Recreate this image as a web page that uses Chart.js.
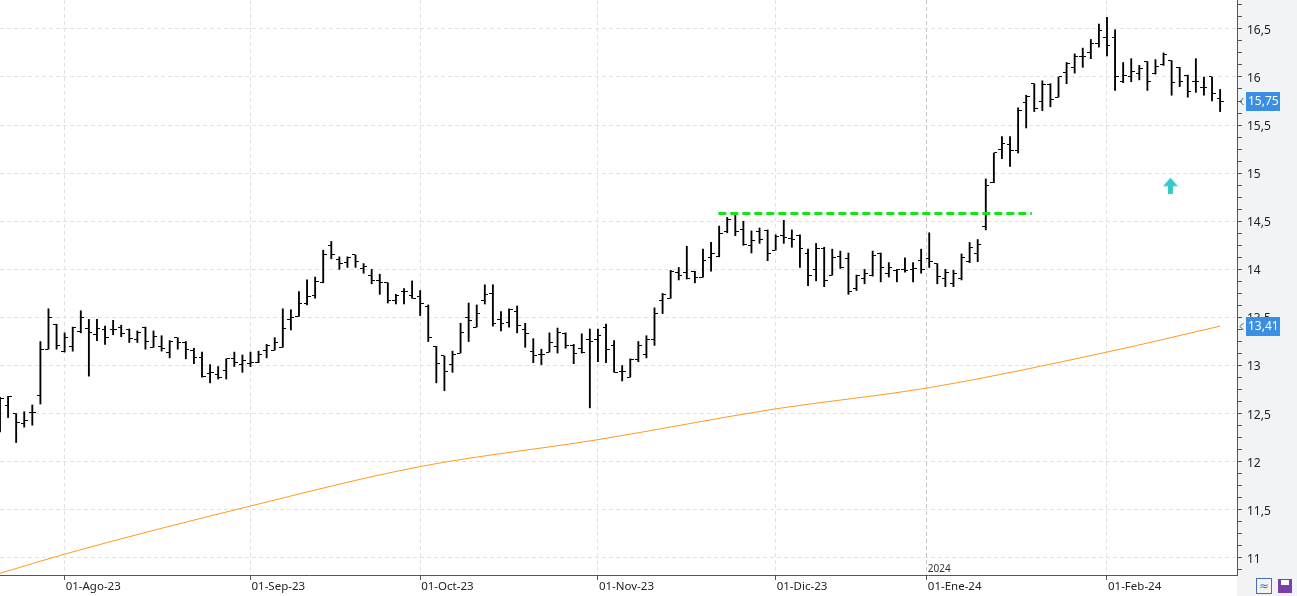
<!DOCTYPE html>
<html><head><meta charset="utf-8">
<script src="https://cdn.jsdelivr.net/npm/chart.js@4.4.1/dist/chart.umd.min.js"></script>
<style>html,body{margin:0;padding:0;background:#fff;overflow:hidden}#wrap{width:1297px;height:596px;position:relative}</style>
</head><body><div id="wrap"><canvas id="c" width="1297" height="596"></canvas></div>
<script>
// Daily OHLC bars, 20-Jul-2023 .. 21-Feb-2024 (index = trading-day number)
const opens = [12.54,12.58,12.50,12.40,12.51,12.69,13.17,13.43,13.15,13.20,
13.35,13.39,13.32,13.38,13.38,13.40,13.38,13.27,13.40,13.19,
13.20,13.14,13.29,13.24,13.16,13.08,12.92,12.91,12.95,13.07,
13.01,13.02,13.03,13.16,13.16,13.19,13.48,13.51,13.65,13.73,
13.86,14.25,14.10,14.07,14.15,14.01,13.94,13.88,13.86,13.68,
13.77,13.73,13.72,13.61,13.20,13.10,13.01,13.13,13.50,13.40,
13.68,13.75,13.48,13.45,13.56,13.38,13.15,13.12,13.14,13.20,
13.33,13.21,13.18,13.27,13.27,13.40,13.21,12.94,12.88,13.06,
13.11,13.27,13.68,13.70,13.97,13.97,13.98,13.92,14.12,14.13,
14.39,14.57,14.41,14.25,14.39,14.40,14.20,14.35,14.32,14.35,
14.16,14.00,14.22,13.94,14.13,14.11,13.80,13.91,13.94,14.17,
13.96,13.99,14.00,14.00,14.09,14.11,14.06,13.90,13.85,13.91,
14.08,14.17,14.45,14.90,15.25,15.30,15.24,15.73,15.93,15.75,
15.92,15.79,16.05,16.10,16.21,16.25,16.35,16.41,16.41,15.95,
16.00,16.04,16.16,16.04,16.13,16.17,16.10,16.02,15.95,15.89,
16.00,15.78];
const highs = [12.67,12.68,12.50,12.52,12.59,13.25,13.59,13.43,13.34,13.40,
13.57,13.48,13.48,13.41,13.47,13.42,13.38,13.36,13.40,13.36,
13.31,13.26,13.29,13.25,13.18,13.14,13.01,12.99,13.07,13.14,
13.11,13.14,13.15,13.22,13.29,13.59,13.58,13.77,13.89,13.92,
14.20,14.29,14.13,14.13,14.15,14.06,14.00,13.95,13.86,13.74,
13.80,13.88,13.78,13.63,13.20,13.10,13.15,13.44,13.65,13.63,
13.84,13.84,13.56,13.59,13.62,13.44,13.28,13.17,13.34,13.39,
13.34,13.22,13.33,13.38,13.38,13.43,13.26,13.00,13.07,13.25,
13.31,13.60,13.75,13.99,14.02,14.24,13.98,14.21,14.28,14.45,
14.54,14.57,14.50,14.40,14.43,14.41,14.36,14.51,14.41,14.36,
14.21,14.27,14.23,14.21,14.19,14.17,13.94,14.00,14.19,14.17,
14.07,14.00,14.12,14.07,14.21,14.38,14.06,14.00,13.99,14.16,
14.28,14.31,14.94,15.21,15.38,15.38,15.68,15.81,15.93,15.96,
15.93,16.00,16.15,16.24,16.30,16.39,16.55,16.62,16.49,16.15,
16.19,16.12,16.16,16.18,16.25,16.17,16.10,16.02,16.19,16.00,
16.00,15.87];
const lows = [12.31,12.46,12.20,12.36,12.38,12.60,13.17,13.17,13.14,13.15,
13.34,12.89,13.26,13.22,13.32,13.30,13.24,13.24,13.17,13.19,
13.15,13.08,13.17,13.07,13.02,12.88,12.82,12.86,12.86,12.99,
12.93,12.99,13.03,13.08,13.16,13.19,13.37,13.51,13.63,13.70,
13.86,14.11,14.00,14.02,14.02,13.96,13.85,13.74,13.65,13.64,
13.64,13.70,13.52,13.25,12.82,12.74,12.93,13.13,13.25,13.40,
13.64,13.41,13.36,13.40,13.34,13.19,13.03,13.01,13.14,13.13,
13.18,13.02,13.13,12.56,13.04,13.03,12.93,12.84,12.88,13.04,
13.08,13.21,13.54,13.70,13.89,13.90,13.86,13.92,13.98,14.13,
14.38,14.35,14.25,14.17,14.27,14.09,14.20,14.27,14.23,14.02,
13.83,13.88,13.82,13.94,14.01,13.74,13.78,13.85,13.93,13.87,
13.92,13.87,13.97,13.87,13.96,14.02,13.85,13.82,13.82,13.89,
14.07,14.08,14.41,14.90,15.15,15.07,15.21,15.47,15.64,15.65,
15.69,15.79,15.93,16.04,16.10,16.19,16.31,16.22,15.86,15.94,
15.95,15.97,15.86,16.03,16.12,15.81,15.90,15.79,15.84,15.81,
15.75,15.64];
const closes = [12.66,12.68,12.41,12.43,12.51,13.17,13.50,13.21,13.29,13.40,
13.50,13.34,13.39,13.29,13.37,13.33,13.28,13.34,13.25,13.30,
13.18,13.25,13.24,13.17,13.08,12.89,12.93,12.88,13.07,13.03,
13.05,13.03,13.12,13.21,13.24,13.39,13.50,13.65,13.72,13.87,
14.15,14.15,14.06,14.12,14.08,14.03,13.88,13.86,13.68,13.73,
13.77,13.70,13.65,13.29,13.02,12.94,13.11,13.34,13.47,13.54,
13.74,13.44,13.44,13.58,13.42,13.33,13.10,13.11,13.24,13.34,
13.21,13.13,13.14,13.25,13.31,13.17,12.93,12.94,13.06,13.21,
13.27,13.54,13.74,13.98,13.94,13.91,13.92,14.09,14.16,14.37,
14.52,14.39,14.26,14.30,14.31,14.16,14.34,14.33,14.31,14.22,
13.94,14.22,13.88,14.12,14.02,13.77,13.94,13.96,14.14,14.02,
14.02,14.00,13.99,14.01,14.00,14.08,13.93,13.97,13.96,14.12,
14.23,14.26,14.87,15.21,15.31,15.24,15.65,15.80,15.67,15.92,
15.77,16.00,16.14,16.21,16.21,16.35,16.48,16.33,16.00,16.02,
16.06,16.09,15.95,16.11,16.23,15.94,15.95,15.85,15.95,15.89,
15.83,15.75];

// Moving average readings (trading-day index, value)
const maIndex  = [0, 8, 31, 52, 74, 96, 115, 137, 151];
const maValues = [10.84, 11.04, 11.54, 11.95, 12.23, 12.55, 12.77, 13.14, 13.41];

// Resistance line (green dashed) and buy signal arrow
const resistanceIndex = [88.9, 127.7];
const resistanceValue = [14.58, 14.58];
const signalIndex = [144.85];
const signalValue = [14.87];

// X axis month ticks
const monthTickIndex  = [8, 31, 52, 74, 96, 114.7, 137];
const monthTickLabels = ['01-Ago-23','01-Sep-23','01-Oct-23','01-Nov-23','01-Dic-23','01-Ene-24','01-Feb-24'];
const yearMarkIndex = 114.7, yearMarkLabel = '2024';

// Axis ranges
const yMin = 10.823, yMax = 16.80;
const xMin = 0, xMax = 153.09;

function fmt(v){ return (Math.round(v*100)/100).toString().replace('.', ','); }

function tickCanvas(side){
  const c = document.createElement('canvas'); c.width = 7; c.height = 1;
  const g = c.getContext('2d'); g.fillStyle = '#000';
  if (side === 'left') g.fillRect(0,0,3,1); else g.fillRect(4,0,3,1);
  return c;
}
function arrowCanvas(){
  const c = document.createElement('canvas'); c.width = 15; c.height = 16;
  const g = c.getContext('2d'); g.fillStyle = '#36c9c9';
  g.beginPath(); g.moveTo(7.5,0); g.lineTo(15,8.5); g.lineTo(0,8.5); g.closePath(); g.fill();
  g.fillRect(5,8,5,8);
  return c;
}

const idx = closes.map((_, i) => i);
const noPad = s => { s.paddingLeft = 0; s.paddingRight = 0; s.paddingTop = 0; s.paddingBottom = 0; };

const decor = {
  id: 'decor',
  beforeDraw(chart){
    const {ctx, chartArea: a, width, height} = chart;
    ctx.save();
    ctx.fillStyle = '#ffffff'; ctx.fillRect(0,0,width,height);
    ctx.fillStyle = '#f2f3f5'; ctx.fillRect(a.right,0,width-a.right,height);
    ctx.restore();
  },
  afterDraw(chart){
    const {ctx, chartArea: a, scales} = chart;
    const y = scales.y, x = scales.x;
    ctx.save();
    ctx.font = '10px "Noto Sans"'; ctx.fillStyle = '#333'; ctx.textBaseline = 'bottom'; ctx.textAlign = 'left';
    ctx.fillText(yearMarkLabel, x.getPixelForValue(yearMarkIndex) + 1, a.bottom - 1);
    const tags = [closes[closes.length-1], maValues[maValues.length-1]];
    tags.forEach(v => {
      const py = Math.round(y.getPixelForValue(v));
      ctx.fillStyle = '#3b8fe3';
      ctx.fillRect(a.right + 9, py - 9, 34, 19);
      ctx.fillStyle = '#fff'; ctx.font = '12px "Noto Sans"'; ctx.textBaseline = 'middle'; ctx.textAlign = 'left';
      ctx.fillText(fmt(v), a.right + 11, py + 1);
      ctx.strokeStyle = '#555'; ctx.lineWidth = 1;
      ctx.beginPath(); ctx.moveTo(a.right + 6.5, py - 3); ctx.lineTo(a.right + 3, py + 0.5); ctx.lineTo(a.right + 6.5, py + 4); ctx.stroke();
    });
    ctx.strokeStyle = '#4a6fb5'; ctx.lineWidth = 1;
    ctx.strokeRect(1256.5, 578.5, 15, 15);
    ctx.font = '12px "DejaVu Sans"'; ctx.fillStyle = '#4a6fb5'; ctx.textAlign = 'center';
    ctx.fillText('≈', 1264, 587);
    ctx.fillStyle = '#7b3fa8'; ctx.fillRect(1278, 579, 14, 14);
    ctx.fillStyle = '#fff'; ctx.fillRect(1281, 580, 8, 5);
    ctx.restore();
  }
};

new Chart(document.getElementById('c'), {
  type: 'bar',
  data: {
    datasets: [
      { type: 'line', label: 'Soporte', data: resistanceIndex.map((v,i)=>({x:v, y:resistanceValue[i]})),
        borderColor: '#19e019', borderWidth: 3, borderDash: [8,4], pointRadius: 0, order: 0 },
      { type: 'scatter', label: 'Señal', data: signalIndex.map((v,i)=>({x:v, y:signalValue[i]})),
        pointStyle: arrowCanvas(), pointRadius: 5, order: 1 },
      { type: 'scatter', label: 'Apertura', data: idx.map(i=>({x:i, y:opens[i]})),
        pointStyle: tickCanvas('left'), pointRadius: 3, order: 2 },
      { type: 'scatter', label: 'Cierre', data: idx.map(i=>({x:i, y:closes[i]})),
        pointStyle: tickCanvas('right'), pointRadius: 3, order: 3 },
      { type: 'bar', label: 'Rango', data: idx.map(i=>({x:i, y:[lows[i], highs[i]]})),
        backgroundColor: '#000', barThickness: 1.2, borderWidth: 0, order: 4 },
      { type: 'line', label: 'Media', data: maIndex.map((v,i)=>({x:v, y:maValues[i]})),
        borderColor: '#ff9a1f', borderWidth: 1, pointRadius: 0, cubicInterpolationMode: 'monotone', order: 5 }
    ]
  },
  options: {
    responsive: false, animation: false, devicePixelRatio: 1,
    layout: { padding: 0, autoPadding: false },
    plugins: { legend: { display: false }, tooltip: { enabled: false } },
    scales: {
      x: {
        type: 'linear', min: xMin, max: xMax, offset: false,
        afterBuildTicks: s => { s.ticks = monthTickIndex.map(v => ({value: v})); },
        afterFit: s => { s.height = 21; noPad(s); },
        grid: { offset: false, color: c => c.index === 5 ? '#c6c6c6' : '#e2e2e2', tickColor: '#555', tickLength: 5 },
        border: { display: true, color: '#555', dash: [4,3] },
        ticks: { autoSkip: false, maxRotation: 0, align: 'start', labelOffset: 1, padding: 0,
          color: '#222', font: { family: 'Noto Sans', size: 11.5 },
          callback: (v, i) => monthTickLabels[i] }
      },
      y: {
        type: 'linear', position: 'right', min: yMin, max: yMax,
        afterBuildTicks: s => { const t = []; for (let k = 0; k <= 47; k++) t.push({value: 10.875 + k*0.125}); s.ticks = t; },
        afterFit: s => { s.width = 60; noPad(s); },
        grid: { color: c => (c.tick && c.tick.value % 0.5 === 0) ? '#e2e2e2' : 'rgba(0,0,0,0)', tickColor: '#555', tickLength: 5 },
        border: { display: true, color: '#555', dash: [4,3] },
        ticks: { autoSkip: false, padding: 5, labelOffset: 1.5, color: '#222', font: { family: 'Noto Sans', size: 12 },
          callback: v => (v % 0.5 === 0) ? fmt(v) : '' }
      }
    }
  },
  plugins: [decor]
});
</script></body></html>
